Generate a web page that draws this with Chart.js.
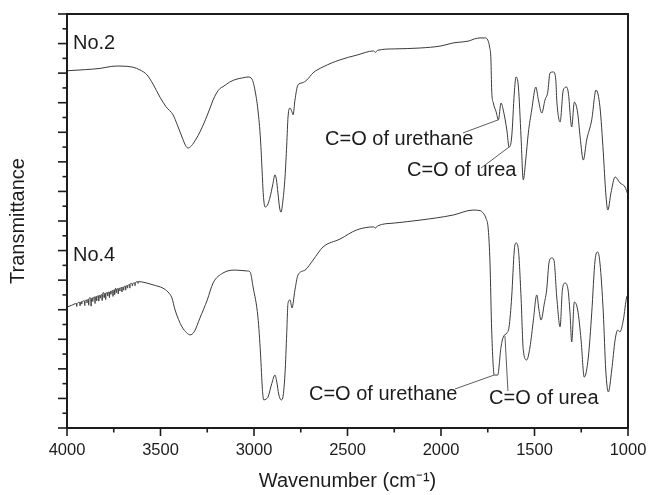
<!DOCTYPE html>
<html>
<head>
<meta charset="utf-8">
<title>FTIR spectra No.2 / No.4</title>
<script src="https://cdn.jsdelivr.net/npm/chart.js@4.4.0/dist/chart.umd.min.js"></script>
<style>
  html, body { margin: 0; padding: 0; background: #fff; }
  canvas { display: block; }
</style>
</head>
<body>
<canvas id="ftir" width="648" height="495"></canvas>
<script>
// spectra (wavenumber in cm-1, transmittance in arbitrary units 0..14)
const no2Wavenumber = [4000, 3900, 3823, 3760, 3717, 3680, 3647, 3610, 3572, 3540, 3503, 3470, 3433, 3410, 3385, 3365, 3353, 3335, 3310, 3289,
  3260, 3235, 3219, 3200, 3182, 3166, 3130, 3091, 3060, 3032, 3011, 2995, 2979, 2965, 2957, 2950, 2941, 2928, 2914, 2900,
  2888, 2880, 2872, 2863, 2856, 2845, 2834, 2825, 2818, 2807, 2797, 2791, 2781, 2765, 2743, 2717, 2684, 2631, 2540, 2450,
  2360, 2350, 2340, 2250, 2112, 2000, 1936, 1850, 1820, 1791, 1765, 1750, 1740, 1733, 1729, 1720, 1705, 1693, 1679, 1667,
  1648, 1636, 1622, 1608, 1599, 1586, 1572, 1560, 1547, 1533, 1515, 1493, 1479, 1461, 1444, 1429, 1417, 1399, 1386, 1381,
  1363, 1346, 1328, 1319, 1301, 1287, 1269, 1256, 1239, 1221, 1194, 1171, 1150, 1132, 1119, 1108, 1091, 1069, 1043, 1016, 1000];
const no2Transmittance = [12.08, 12.12, 12.16, 12.23, 12.24, 12.23, 12.20, 12.11, 11.94, 11.63, 11.19, 10.86, 10.59, 10.25, 9.84, 9.54, 9.47, 9.54, 9.77, 10.01,
  10.42, 10.82, 11.09, 11.33, 11.48, 11.54, 11.70, 11.80, 11.84, 11.87, 11.80, 11.43, 10.75, 9.74, 8.73, 7.88, 7.47, 7.54, 7.81, 8.22,
  8.56, 8.39, 7.95, 7.44, 7.30, 7.71, 8.49, 9.57, 10.52, 10.82, 10.69, 10.59, 11.09, 11.60, 11.67, 11.77, 12.01, 12.21, 12.45, 12.61,
  12.75, 12.70, 12.77, 12.82, 12.85, 12.92, 13.02, 13.09, 13.16, 13.19, 13.19, 13.12, 12.88, 12.45, 11.43, 10.99, 10.69, 10.42, 10.99, 10.75,
  10.08, 9.50, 9.84, 11.33, 11.87, 11.53, 9.84, 8.39, 9.06, 9.98, 10.75, 11.53, 11.09, 10.65, 11.09, 11.36, 12.01, 12.04, 11.77, 11.09,
  10.35, 11.43, 11.53, 11.33, 10.18, 11.02, 10.65, 9.84, 9.06, 9.74, 10.42, 11.43, 10.86, 9.30, 7.95, 7.37, 7.95, 8.49, 8.29, 8.15, 7.88];

// No.4 starts with the noisy water-vapour band between 3950 and 3600
const no4Wavenumber = [4000, 3975, 3950, 3948, 3946, 3932, 3930, 3928, 3923, 3921,
  3919, 3907, 3905, 3903, 3895, 3893, 3891, 3886, 3884, 3882,
  3877, 3873, 3871, 3869, 3864, 3862, 3860, 3852, 3850, 3848,
  3843, 3841, 3839, 3832, 3830, 3828, 3824, 3822, 3820, 3814,
  3812, 3810, 3806, 3803, 3801, 3799, 3795, 3793, 3791, 3784,
  3782, 3780, 3775, 3773, 3771, 3767, 3765, 3763, 3756, 3754,
  3752, 3747, 3745, 3743, 3740, 3738, 3736, 3734, 3728, 3726,
  3724, 3719, 3717, 3715, 3708, 3706, 3704, 3699, 3697, 3695,
  3688, 3686, 3684, 3678, 3676, 3674, 3666, 3664, 3662, 3658,
  3652, 3650, 3648, 3638, 3636, 3634, 3622, 3620, 3618, 3600,
  3572, 3540, 3487, 3460, 3439, 3422, 3385,
  3360, 3342, 3320, 3289, 3250, 3219, 3166, 3102, 3037, 3021, 3005, 2979, 2965, 2955, 2948, 2935, 2925, 2905, 2888, 2878,
  2868, 2855, 2848, 2834, 2825, 2818, 2807, 2797, 2781, 2765, 2727, 2684, 2631, 2540, 2450, 2360, 2350, 2340, 2250, 2112,
  1936, 1829, 1790, 1775, 1760, 1747, 1738, 1729, 1715, 1697, 1679, 1667, 1648, 1636, 1622, 1608, 1599, 1586, 1572, 1560,
  1542, 1524, 1506, 1488, 1476, 1465, 1447, 1435, 1422, 1408, 1396, 1381, 1363, 1351, 1337, 1322, 1310, 1301, 1287, 1269,
  1251, 1234, 1212, 1194, 1176, 1162, 1150, 1132, 1119, 1105, 1087, 1069, 1055, 1043, 1025, 1007, 1000];
const no4Transmittance = [4.09, 4.15, 4.21, 4.11, 4.21, 4.25, 4.13, 4.25, 4.27, 4.19,
  4.27, 4.30, 4.14, 4.30, 4.33, 4.23, 4.33, 4.35, 4.15, 4.35,
  4.41, 4.38, 4.12, 4.38, 4.40, 4.28, 4.40, 4.43, 4.21, 4.43,
  4.45, 4.30, 4.45, 4.47, 4.29, 4.47, 4.49, 4.39, 4.49, 4.51,
  4.31, 4.51, 4.58, 4.54, 4.40, 4.54, 4.56, 4.34, 4.56, 4.58,
  4.46, 4.58, 4.60, 4.41, 4.60, 4.62, 4.52, 4.62, 4.65, 4.45,
  4.65, 4.67, 4.51, 4.67, 4.73, 4.69, 4.57, 4.69, 4.71, 4.53,
  4.71, 4.73, 4.63, 4.73, 4.75, 4.60, 4.75, 4.77, 4.66, 4.77,
  4.80, 4.66, 4.80, 4.82, 4.73, 4.82, 4.85, 4.73, 4.85, 4.89,
  4.88, 4.80, 4.88, 4.91, 4.81, 4.91, 4.95, 4.89, 4.95, 4.94,
  4.90, 4.84, 4.73, 4.60, 4.40, 3.99, 3.42,
  3.22, 3.15, 3.25, 3.72, 4.33, 4.90, 5.24, 5.34, 5.31, 5.28, 4.77, 3.75, 2.50, 1.30, 0.95, 0.98, 1.05, 1.50, 1.79, 1.55,
  1.15, 0.95, 0.98, 1.86, 3.20, 4.23, 4.33, 4.06, 4.67, 5.17, 5.34, 5.68, 6.12, 6.39, 6.70, 6.80, 6.76, 6.83, 6.93, 7.03,
  7.20, 7.37, 7.35, 7.27, 7.10, 6.70, 5.58, 3.31, 1.79, 1.79, 2.74, 3.08, 3.21, 3.42, 4.43, 6.02, 6.26, 6.02, 4.43, 2.64,
  2.30, 2.74, 3.65, 4.50, 3.99, 3.65, 4.23, 4.67, 5.61, 5.75, 5.68, 4.43, 3.42, 4.67, 4.90, 4.73, 3.89, 2.91, 4.26, 3.99,
  2.98, 1.72, 2.40, 3.89, 5.68, 5.95, 5.58, 3.89, 1.96, 1.22, 1.96, 2.98, 3.31, 3.25, 3.65, 4.43, 4.50];

const xTickValues = [4000, 3750, 3500, 3250, 3000, 2750, 2500, 2250, 2000, 1750, 1500, 1250, 1000];
const yTickValues = [0, 0.5, 1, 1.5, 2, 2.5, 3, 3.5, 4, 4.5, 5, 5.5, 6, 6.5, 7, 7.5, 8, 8.5, 9, 9.5, 10, 10.5, 11, 11.5, 12, 12.5, 13, 13.5, 14];

// labels and leader lines, anchored in data units
const notes = [
  { text: 'No.2', at: [3968, 13.0] },
  { text: 'No.4', at: [3968, 5.83] },
  { text: 'C=O of urethane', at: [2620, 9.74], from: [1882, 9.98], to: [1694, 10.42] },
  { text: 'C=O of urea', at: [2182, 8.72], from: [1786, 8.79], to: [1636, 9.50] },
  { text: 'C=O of urethane', at: [2706, 1.12], from: [1925, 1.32], to: [1716, 1.79] },
  { text: 'C=O of urea', at: [1743, 1.01], from: [1658, 3.11], to: [1642, 1.25] }
];

const FONT = '"Liberation Sans", Arial, Helvetica, sans-serif';
const INK = '#1c1c1c';

const toPoints = (xs, ys) => xs.map((x, i) => ({ x: x, y: ys[i] }));

const spectrum = (pts) => ({
  data: pts,
  borderColor: '#3a3a3a',
  borderWidth: 1,
  pointRadius: 0,
  cubicInterpolationMode: 'monotone',
  fill: false
});

const leaders = notes.filter(n => n.from).map(n => ({
  data: [{ x: n.from[0], y: n.from[1] }, { x: n.to[0], y: n.to[1] }],
  borderColor: '#333',
  borderWidth: 0.8,
  pointRadius: 0,
  fill: false
}));

const frameTicksNotes = {
  id: 'frameTicksNotes',
  afterDatasetsDraw(chart) {
    const { ctx, chartArea: a, scales: { x, y } } = chart;
    ctx.save();
    ctx.strokeStyle = INK;
    ctx.lineWidth = 1.6;
    x.ticks.forEach(t => {
      const px = x.getPixelForValue(t.value);
      const len = t.value % 500 === 0 ? 8 : 4.5;
      ctx.beginPath();
      ctx.moveTo(px, a.bottom);
      ctx.lineTo(px, a.bottom + len);
      ctx.stroke();
    });
    y.ticks.forEach(t => {
      const py = y.getPixelForValue(t.value);
      const len = t.value % 1 === 0 ? 9 : 4.5;
      ctx.beginPath();
      ctx.moveTo(a.left, py);
      ctx.lineTo(a.left - len, py);
      ctx.stroke();
    });
    ctx.lineWidth = 2;
    ctx.strokeRect(a.left, a.top, a.right - a.left, a.bottom - a.top);

    ctx.fillStyle = INK;
    ctx.font = '20px ' + FONT;
    ctx.textAlign = 'left';
    ctx.textBaseline = 'middle';
    notes.forEach(n => {
      ctx.fillText(n.text, x.getPixelForValue(n.at[0]), y.getPixelForValue(n.at[1]));
    });
    ctx.restore();
  }
};

new Chart(document.getElementById('ftir'), {
  type: 'line',
  data: {
    datasets: [spectrum(toPoints(no2Wavenumber, no2Transmittance)), spectrum(toPoints(no4Wavenumber, no4Transmittance))].concat(leaders)
  },
  options: {
    responsive: false,
    animation: false,
    layout: { padding: { top: 14, right: 20, bottom: 0, left: 0 } },
    plugins: { legend: { display: false }, tooltip: { enabled: false } },
    scales: {
      x: {
        type: 'linear',
        reverse: true,
        min: 1000,
        max: 4000,
        afterBuildTicks: (s) => { s.ticks = xTickValues.map(v => ({ value: v })); },
        afterFit: (s) => { s.height = 67; s.paddingLeft = 0; s.paddingRight = 0; },
        grid: { display: false },
        border: { display: false },
        ticks: {
          autoSkip: false,
          maxRotation: 0,
          padding: 5,
          color: INK,
          font: { family: FONT, size: 16.5 },
          callback: (v) => (v % 500 === 0 ? String(v) : '')
        },
        title: {
          display: true,
          text: 'Wavenumber (cm\u207B\u00B9)',
          color: INK,
          font: { family: FONT, size: 20 },
          padding: { top: 0, bottom: 2 }
        }
      },
      y: {
        type: 'linear',
        min: 0,
        max: 14,
        afterBuildTicks: (s) => { s.ticks = yTickValues.map(v => ({ value: v })); },
        afterFit: (s) => { s.width = 67; s.paddingTop = 0; s.paddingBottom = 0; },
        grid: { display: false },
        border: { display: false },
        ticks: { display: false },
        title: {
          display: true,
          text: 'Transmittance',
          color: INK,
          font: { family: FONT, size: 20 },
          padding: { top: 6, bottom: 0 }
        }
      }
    }
  },
  plugins: [frameTicksNotes]
});
</script>
</body>
</html>
